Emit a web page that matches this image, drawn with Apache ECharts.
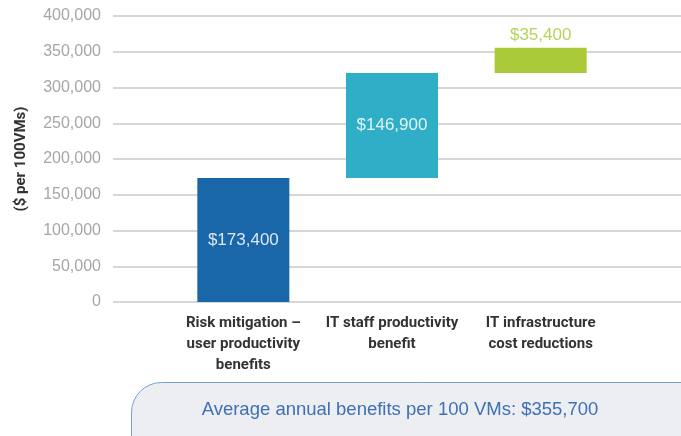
<!DOCTYPE html>
<html>
<head>
<meta charset="utf-8">
<script src="https://cdn.jsdelivr.net/npm/echarts@6/dist/echarts.min.js"></script>
<style>
  html, body { margin: 0; padding: 0; background: #fff; }
  #main { width: 681px; height: 436px; }
</style>
</head>
<body>
<div id="main"></div>
<script>
// data
var categories = [
  "Risk mitigation –\nuser productivity\nbenefits",
  "IT staff productivity\nbenefit",
  "IT infrastructure\ncost reductions"
];
var benefits = [173400, 146900, 35400];
var barColors = ["#1967a8", "#30aec7", "#abca3a"];
var totalText = "Average annual benefits per 100 VMs: $355,700";

// invisible base so each bar starts where the previous one ended
var base = [];
var running = 0;
for (var i = 0; i < benefits.length; i++) {
  base.push(running);
  running += benefits[i];
}

function money(v) {
  return "$" + v.toLocaleString("en-US");
}

var myChart = echarts.init(document.getElementById("main"));
var option;

option = {
  animation: false,
  textStyle: { fontFamily: "Liberation Sans" },
  grid: [
    { left: 113, right: 0, top: 16, bottom: 134 },
    { left: 169, right: 66, top: 16, bottom: 134 }
  ],
  xAxis: [
    { gridIndex: 0, type: "value", show: false },
    {
      gridIndex: 1,
      type: "category",
      data: categories,
      axisLine: { show: false },
      axisTick: { show: false },
      axisLabel: {
        interval: 0,
        margin: 11,
        color: "#333",
        fontFamily: "Roboto",
        fontWeight: "bold",
        fontSize: 15,
        lineHeight: 21
      }
    }
  ],
  yAxis: [
    {
      gridIndex: 0,
      type: "value",
      min: 0,
      max: 400000,
      interval: 50000,
      name: "($ per 100VMs)",
      nameLocation: "middle",
      nameGap: 84,
      nameTextStyle: {
        color: "#333",
        fontFamily: "Roboto",
        fontWeight: "bold",
        fontSize: 15
      },
      axisLine: { show: false },
      axisTick: { show: false },
      axisLabel: {
        margin: 12,
        color: "#a6a6a6",
        fontSize: 16,
        formatter: function (v) {
          return v.toLocaleString("en-US");
        }
      },
      splitLine: { lineStyle: { color: "#c8c8c8", width: 1.5 } }
    },
    { gridIndex: 1, type: "value", min: 0, max: 400000, show: false }
  ],
  series: [
    {
      type: "bar",
      xAxisIndex: 1,
      yAxisIndex: 1,
      stack: "fall",
      barWidth: 92,
      itemStyle: { color: "transparent" },
      silent: true,
      data: base
    },
    {
      type: "bar",
      xAxisIndex: 1,
      yAxisIndex: 1,
      stack: "fall",
      barWidth: 92,
      data: benefits.map(function (v, i) {
        var last = i === benefits.length - 1;
        return {
          value: v,
          itemStyle: { color: barColors[i] },
          label: last
            ? { position: "top", distance: 4, color: "#b6d45c" }
            : { position: "inside", color: "rgba(255,255,255,0.85)" }
        };
      }),
      label: {
        show: true,
        fontSize: 17,
        formatter: function (p) {
          return money(p.value);
        }
      }
    }
  ],
  graphic: [
    {
      type: "rect",
      left: 131,
      top: 382,
      shape: { width: 620, height: 90, r: 30 },
      style: { fill: "#eceef1", stroke: "#7a9ed3", lineWidth: 1 }
    },
    {
      type: "text",
      x: 400,
      y: 410,
      style: {
        text: totalText,
        fill: "#3f6fb5",
        font: "18.5px 'Liberation Sans'",
        align: "center",
        verticalAlign: "middle"
      }
    }
  ]
};

option && myChart.setOption(option);
</script>
</body>
</html>
